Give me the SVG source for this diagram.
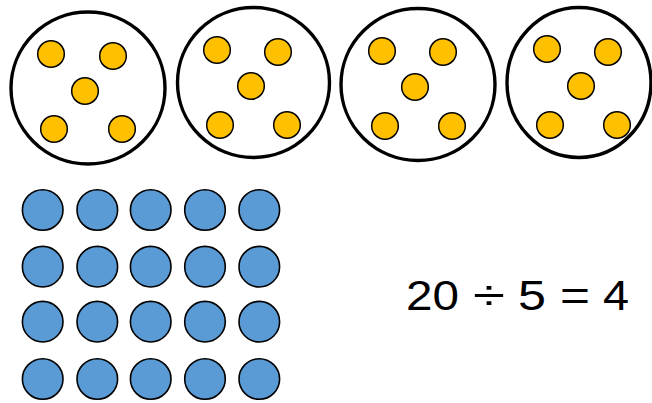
<svg xmlns="http://www.w3.org/2000/svg" width="652" height="403" viewBox="0 0 652 403">
<style>
.big{fill:#fff;stroke:#000;stroke-width:3.4}
.y{fill:#FFC000;stroke:#000;stroke-width:1.5}
.b{fill:#5B9BD5;stroke:#000;stroke-width:1.6}
.t{font-family:"Liberation Sans",Arial,sans-serif;font-size:42px;fill:#000}
</style>
<rect width="652" height="403" fill="#fff"/>
<g id="group1">
<ellipse class="big" cx="88" cy="88" rx="77" ry="76"/>
<circle class="y" cx="51" cy="54" r="13.3"/>
<circle class="y" cx="113" cy="56" r="13.3"/>
<circle class="y" cx="85" cy="91" r="13.3"/>
<circle class="y" cx="54" cy="129" r="13.3"/>
<circle class="y" cx="122" cy="129" r="13.3"/>
</g>
<g id="group2">
<ellipse class="big" cx="253.5" cy="82.5" rx="76" ry="75"/>
<circle class="y" cx="217" cy="50" r="13.3"/>
<circle class="y" cx="278" cy="52" r="13.3"/>
<circle class="y" cx="251" cy="86" r="13.3"/>
<circle class="y" cx="220" cy="125" r="13.3"/>
<circle class="y" cx="287" cy="125" r="13.3"/>
</g>
<g id="group3">
<ellipse class="big" cx="418" cy="84.5" rx="77" ry="76"/>
<circle class="y" cx="382" cy="51" r="13.3"/>
<circle class="y" cx="443" cy="52" r="13.3"/>
<circle class="y" cx="415" cy="87" r="13.3"/>
<circle class="y" cx="385" cy="126" r="13.3"/>
<circle class="y" cx="452" cy="126" r="13.3"/>
</g>
<g id="group4">
<ellipse class="big" cx="579" cy="82.5" rx="72" ry="75"/>
<circle class="y" cx="547" cy="49" r="13.3"/>
<circle class="y" cx="608" cy="52" r="13.3"/>
<circle class="y" cx="581" cy="86" r="13.3"/>
<circle class="y" cx="550" cy="125" r="13.3"/>
<circle class="y" cx="617" cy="125" r="13.3"/>
</g>
<g id="blue-dots">
<circle class="b" cx="42.7" cy="210" r="20.3"/>
<circle class="b" cx="97.3" cy="210" r="20.3"/>
<circle class="b" cx="150.7" cy="210" r="20.3"/>
<circle class="b" cx="205" cy="210" r="20.3"/>
<circle class="b" cx="259.3" cy="210" r="20.3"/>
<circle class="b" cx="42.7" cy="266.7" r="20.3"/>
<circle class="b" cx="97.3" cy="266.7" r="20.3"/>
<circle class="b" cx="150.7" cy="266.7" r="20.3"/>
<circle class="b" cx="205" cy="266.7" r="20.3"/>
<circle class="b" cx="259.3" cy="266.7" r="20.3"/>
<circle class="b" cx="42.7" cy="321.7" r="20.3"/>
<circle class="b" cx="97.3" cy="321.7" r="20.3"/>
<circle class="b" cx="150.7" cy="321.7" r="20.3"/>
<circle class="b" cx="205" cy="321.7" r="20.3"/>
<circle class="b" cx="259.3" cy="321.7" r="20.3"/>
<circle class="b" cx="42.7" cy="379" r="20.3"/>
<circle class="b" cx="97.3" cy="379" r="20.3"/>
<circle class="b" cx="150.7" cy="379" r="20.3"/>
<circle class="b" cx="205" cy="379" r="20.3"/>
<circle class="b" cx="259.3" cy="379" r="20.3"/>
</g>
<g id="equation">
<text class="t" x="406" y="310" textLength="53" lengthAdjust="spacingAndGlyphs">20</text>
<text class="t" x="473" y="310" textLength="32" lengthAdjust="spacingAndGlyphs">÷</text>
<text class="t" x="518" y="310" textLength="28" lengthAdjust="spacingAndGlyphs">5</text>
<text class="t" x="560" y="310" textLength="30" lengthAdjust="spacingAndGlyphs">=</text>
<text class="t" x="603" y="310" textLength="26" lengthAdjust="spacingAndGlyphs">4</text>
</g>
<g id="connectors"/>
</svg>
